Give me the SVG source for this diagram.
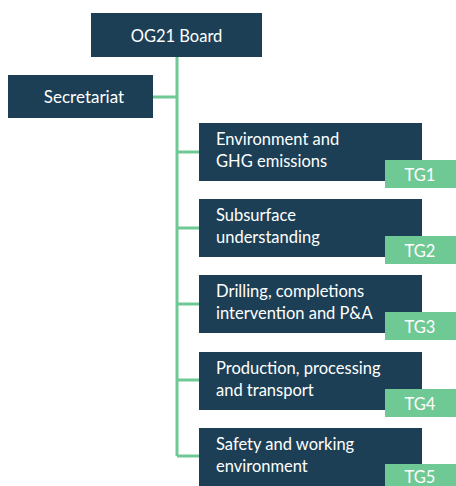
<svg xmlns="http://www.w3.org/2000/svg" width="456" height="486" viewBox="0 0 456 486">
<style>
.box{fill:#1c3f56}
.tag{fill:#6fc995}
.t{font-family:Lato,"Open Sans","Liberation Sans",sans-serif;font-size:16.5px;fill:#ffffff}
.tg{font-family:Lato,"Open Sans","Liberation Sans",sans-serif;font-size:16.5px;fill:#ffffff;text-anchor:middle}
.c{stroke:#6fc995;stroke-width:3;fill:none}
</style>
<rect width="456" height="486" fill="#ffffff"/>
<g id="connectors">
<path class="c" d="M177 57V456M153 97H177M177 152H199M177 228H199M177 304H199M177 380H199M177 456H199"/>
</g>
<g id="board">
<rect class="box" x="91" y="13" width="171" height="44"/>
<text class="t" x="176.500" y="42" text-anchor="middle" font-size="17">OG21 Board</text>
</g>
<g id="secretariat">
<rect class="box" x="8" y="75" width="145" height="43"/>
<text class="t" x="84" y="103" text-anchor="middle" style="font-size:17px">Secretariat</text>
</g>
<g id="tg1">
<rect class="box" x="199" y="123" width="223" height="58"/>
<text class="t" x="216" y="145">Environment and</text>
<text class="t" x="216" y="167">GHG emissions</text>
<rect class="tag" x="385" y="160" width="71" height="28"/>
<text class="tg" x="420" y="181">TG1</text>
</g>
<g id="tg2">
<rect class="box" x="199" y="199" width="223" height="58"/>
<text class="t" x="216" y="221">Subsurface</text>
<text class="t" x="216" y="243">understanding</text>
<rect class="tag" x="385" y="236" width="71" height="28"/>
<text class="tg" x="420" y="257">TG2</text>
</g>
<g id="tg3">
<rect class="box" x="199" y="275" width="223" height="58"/>
<text class="t" x="216" y="297">Drilling, completions</text>
<text class="t" x="216" y="319">intervention and P&amp;A</text>
<rect class="tag" x="385" y="312" width="71" height="28"/>
<text class="tg" x="420" y="333">TG3</text>
</g>
<g id="tg4">
<rect class="box" x="199" y="352" width="223" height="58"/>
<text class="t" x="216" y="374">Production, processing</text>
<text class="t" x="216" y="396">and transport</text>
<rect class="tag" x="385" y="389" width="71" height="28"/>
<text class="tg" x="420" y="410">TG4</text>
</g>
<g id="tg5">
<rect class="box" x="199" y="428" width="223" height="58"/>
<text class="t" x="216" y="450">Safety and working</text>
<text class="t" x="216" y="472">environment</text>
<rect class="tag" x="385" y="464" width="71" height="22"/>
<text class="tg" x="420" y="483">TG5</text>
</g>
</svg>
